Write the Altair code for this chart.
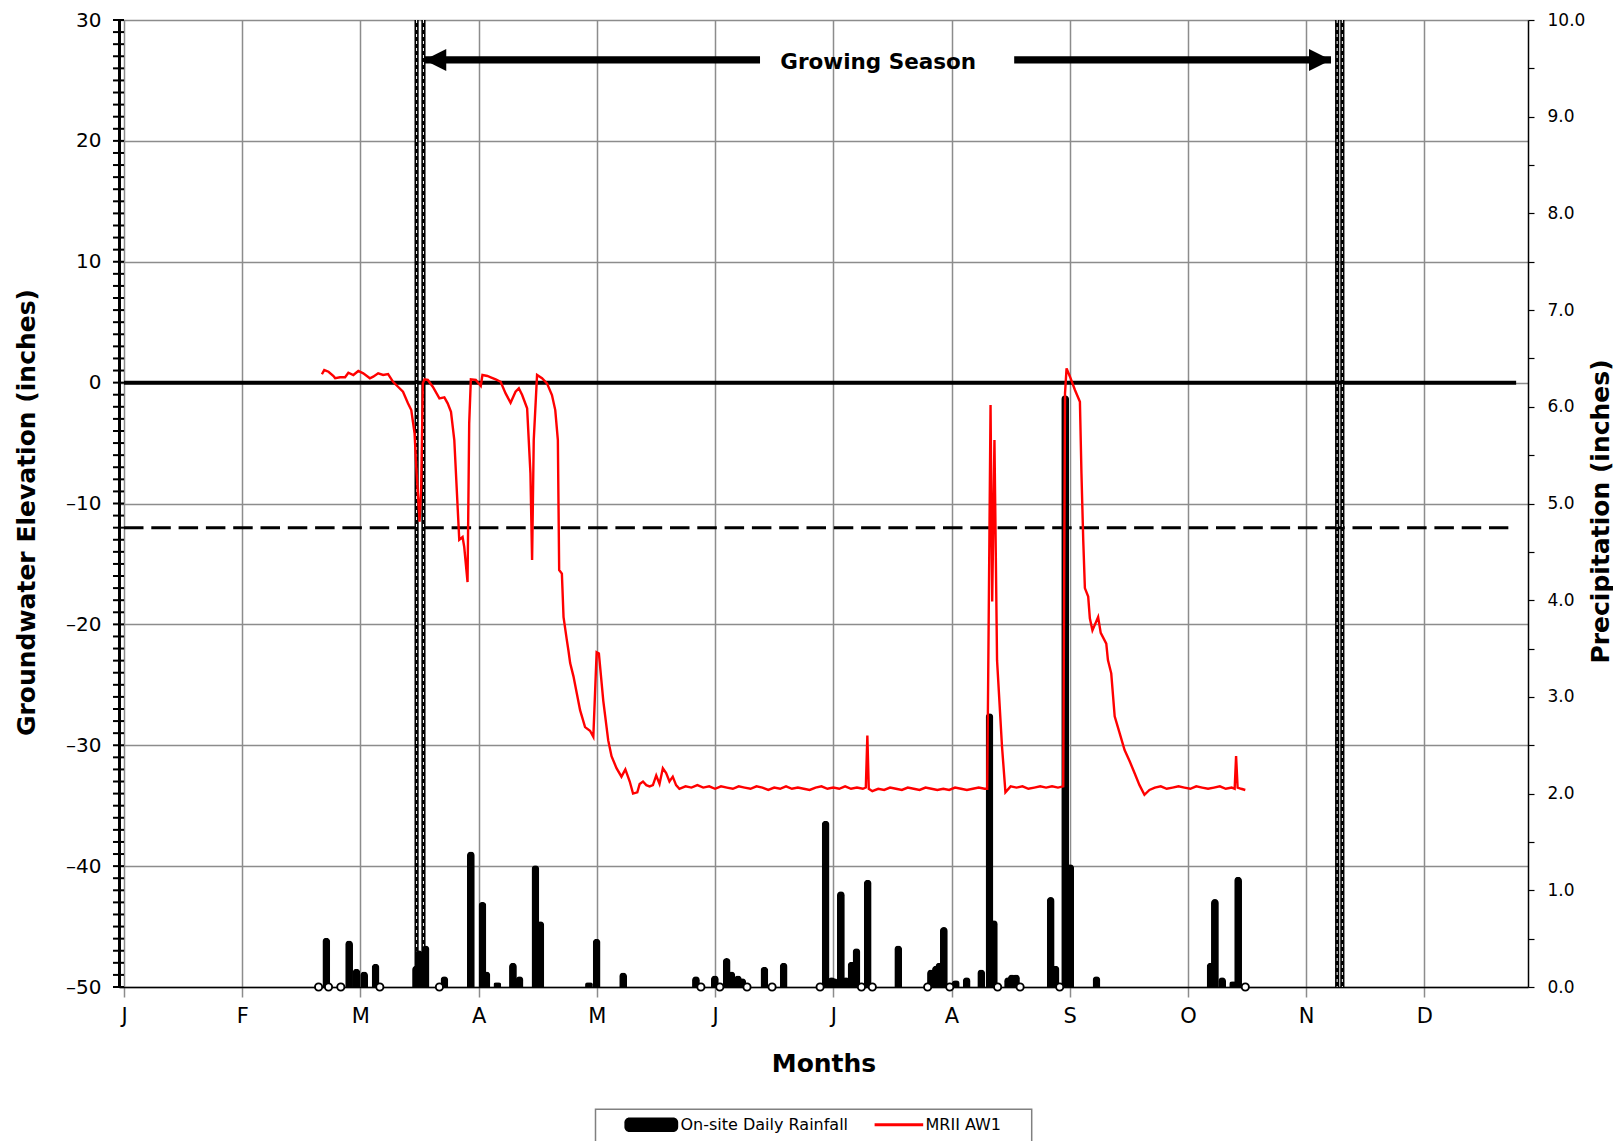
import json
import altair as alt
import pandas as pd

# ---------------- data ----------------
MONTH_LABELS = ["J", "F", "M", "A", "M", "J", "J", "A", "S", "O", "N", "D"]
MONTH_TICKS = list(range(12))
X_MAX = 11.834  # axis ends a little before a 13th month tick

# groundwater elevation (inches) of MRII AW1, x in month positions
gw_month = [
    1.674, 1.694, 1.730, 1.772, 1.786, 1.828, 1.870, 1.898, 1.940, 1.982,
    2.024, 2.080, 2.108, 2.150, 2.192, 2.234, 2.276, 2.318, 2.360, 2.402,
    2.430, 2.458, 2.472, 2.500, 2.514, 2.528, 2.542, 2.570, 2.612, 2.668,
    2.710, 2.738, 2.766, 2.794, 2.822, 2.836, 2.864, 2.878, 2.906, 2.920,
    2.934, 2.976, 3.018, 3.032, 3.074, 3.102, 3.144, 3.186, 3.228, 3.270,
    3.312, 3.340, 3.368, 3.410, 3.438, 3.452, 3.466, 3.494, 3.536, 3.578,
    3.620, 3.648, 3.670, 3.681, 3.704, 3.718, 3.746, 3.760, 3.774, 3.802,
    3.830, 3.858, 3.900, 3.942, 3.970, 3.998, 4.017, 4.054, 4.096, 4.124,
    4.166, 4.208, 4.241, 4.278, 4.306, 4.342, 4.362, 4.390, 4.418, 4.446,
    4.474, 4.502, 4.530, 4.558, 4.586, 4.614, 4.642, 4.670, 4.698,
    4.75, 4.80, 4.85, 4.90, 4.95, 5.00, 5.05, 5.10, 5.15, 5.20,
    5.25, 5.30, 5.35, 5.40, 5.45, 5.50, 5.55, 5.60, 5.65, 5.70,
    5.75, 5.80, 5.85, 5.90, 5.95, 6.00, 6.05, 6.10, 6.15, 6.20,
    6.25, 6.275, 6.288, 6.300, 6.33, 6.38, 6.43, 6.48, 6.53, 6.58,
    6.63, 6.68, 6.73, 6.78, 6.83, 6.88, 6.93, 6.98, 7.03, 7.08,
    7.13, 7.18, 7.23, 7.28, 7.302, 7.330, 7.344, 7.363, 7.385, 7.427,
    7.456, 7.50, 7.55, 7.60, 7.65, 7.70, 7.75, 7.80, 7.85, 7.90,
    7.945, 7.960, 7.973, 8.002, 8.044, 8.086, 8.099, 8.114, 8.128, 8.156,
    8.170, 8.192, 8.240, 8.262, 8.309, 8.323, 8.351, 8.380, 8.422, 8.464,
    8.506, 8.548, 8.590, 8.632, 8.674, 8.72, 8.77, 8.82, 8.87, 8.92,
    8.97, 9.02, 9.07, 9.12, 9.17, 9.22, 9.27, 9.32, 9.37, 9.395,
    9.407, 9.420, 9.45, 9.485,
]
gw_elev = [
    0.69, 1.04, 0.90, 0.55, 0.36, 0.44, 0.44, 0.82, 0.63, 0.96,
    0.77, 0.36, 0.49, 0.77, 0.63, 0.71, 0.07, -0.34, -0.75, -1.71,
    -2.27, -4.19, -6.95, -11.5, -8.6, -0.06, 0.27, 0.22, -0.34, -1.30,
    -1.22, -1.71, -2.41, -4.75, -10.27, -13.0, -12.77, -13.6, -16.5, -3.37,
    0.27, 0.22, -0.28, 0.63, 0.55, 0.44, 0.27, 0.07, -0.89, -1.66,
    -0.75, -0.47, -1.03, -2.13, -7.5, -14.68, -4.75, 0.63, 0.36, -0.06,
    -1.03, -2.27, -4.75, -15.5, -15.8, -19.4, -21.3, -22.2, -23.2, -24.3,
    -25.7, -27.1, -28.5, -28.8, -29.3, -22.3, -22.4, -26.3, -29.6, -30.9,
    -31.9, -32.6, -32.0, -33.0, -34.0, -33.9, -33.2, -33.0, -33.3, -33.4,
    -33.3, -32.5, -33.2, -31.9, -32.3, -33.0, -32.6, -33.3, -33.6,
    -33.4, -33.5, -33.3, -33.5, -33.4, -33.6, -33.4, -33.5, -33.6, -33.4,
    -33.5, -33.6, -33.4, -33.5, -33.7, -33.5, -33.6, -33.4, -33.6, -33.5,
    -33.6, -33.7, -33.5, -33.4, -33.6, -33.5, -33.6, -33.4, -33.6, -33.5,
    -33.6, -33.5, -29.2, -33.6, -33.8, -33.6, -33.7, -33.5, -33.6, -33.7,
    -33.5, -33.6, -33.7, -33.5, -33.6, -33.7, -33.6, -33.7, -33.5, -33.6,
    -33.7, -33.6, -33.5, -33.6, -33.6, -1.85, -18.1, -4.75, -22.96, -30.1,
    -33.9, -33.4, -33.5, -33.4, -33.6, -33.5, -33.4, -33.5, -33.4, -33.5,
    -33.4, -0.89, 1.18, 0.49, -0.61, -1.58, -7.5, -13.0, -17.0, -17.7,
    -19.5, -20.5, -19.4, -20.7, -21.6, -22.96, -24.05, -27.6, -29.0, -30.4,
    -31.3, -32.3, -33.3, -34.1, -33.7, -33.5, -33.4, -33.6, -33.5, -33.4,
    -33.5, -33.6, -33.4, -33.5, -33.6, -33.5, -33.4, -33.6, -33.5, -33.6,
    -30.9, -33.5, -33.6, -33.7,
]

# on-site daily rainfall (inches)
rain_month = [
    1.711, 1.904, 1.966, 2.031, 2.128, 2.470, 2.494, 2.551, 2.710, 2.934,
    3.032, 3.066, 3.158, 3.290, 3.346, 3.480, 3.522, 3.933, 3.998, 4.222,
    4.838, 4.998, 5.098, 5.138, 5.193, 5.230, 5.417, 5.580, 5.935, 5.986,
    6.010, 6.064, 6.106, 6.154, 6.196, 6.291, 6.549, 6.826, 6.868, 6.896,
    6.935, 7.036, 7.128, 7.251, 7.321, 7.358, 7.478, 7.510, 7.545, 7.839,
    7.880, 7.961, 8.004, 8.226, 9.191, 9.228, 9.289, 9.382, 9.424,
]
rain_in = [
    0.51, 0.48, 0.19, 0.16, 0.24, 0.22, 0.38, 0.43, 0.11, 1.40,
    0.88, 0.16, 0.05, 0.25, 0.11, 1.26, 0.68, 0.05, 0.50, 0.15,
    0.11, 0.12, 0.30, 0.16, 0.12, 0.09, 0.21, 0.25, 1.72, 0.10,
    0.09, 0.99, 0.10, 0.26, 0.40, 1.11, 0.43, 0.18, 0.22, 0.25,
    0.62, 0.07, 0.10, 0.18, 2.83, 0.69, 0.10, 0.13, 0.13, 0.93,
    0.22, 6.12, 1.27, 0.11, 0.25, 0.91, 0.10, 0.06, 1.14,
]
# days with zero rainfall drawn as open markers
zero_rain_month = [
    1.646, 1.730, 1.834, 2.164, 2.668, 4.880, 5.040, 5.270, 5.482, 5.888,
    6.238, 6.330, 6.798, 6.985, 7.390, 7.580, 7.915, 9.485,
]

GROWING_SEASON_LINES = [2.475, 2.533, 10.262, 10.306]
ARROW_LEFT = [2.54, 5.38]     # tip, tail
ARROW_RIGHT = [7.53, 10.21]   # tail, tip
ARROW_ELEV = 26.7
GS_LABEL = "Growing Season"
GS_LABEL_MONTH = 6.38
GS_LABEL_ELEV = 26.45
ZERO_LINE = [0.0, 11.776, 0.0]
THRESHOLD_LINE = [0.0, 11.71, -12.0]
LEFT_TICKS = list(range(-50, 31))
LEFT_LABELS = [-50, -40, -30, -20, -10, 0, 10, 20, 30]
RIGHT_TICKS = [i / 2 for i in range(21)]
LEGEND_LABELS = ["On-site Daily Rainfall", "MRII AW1"]

# ---------------- chart ----------------
W, H = 1409, 967
FONT = "DejaVu Sans"
GRID = "#8c8c8c"

xs = alt.Scale(domain=[0, X_MAX], nice=False, zero=False)
yl = alt.Scale(domain=[-50, 30], nice=False, zero=False)
yr = alt.Scale(domain=[0, 10], nice=False, zero=True)

X_AXIS = alt.Axis(
    values=MONTH_TICKS,
    labelExpr=json.dumps(MONTH_LABELS) + "[datum.value]",
    grid=True, gridColor=GRID, gridWidth=1.5,
    ticks=True, tickColor=GRID, tickWidth=1.5, tickSize=10,
    domainColor="black", domainWidth=1.5,
    labelFont=FONT, labelFontSize=21, labelColor="black", labelPadding=8,
    labelFlush=False, labelOverlap=False,
    title="Months", titleFont=FONT, titleFontSize=25, titleFontWeight="bold",
    titleColor="black", titleY=76, titleBaseline="middle",
)
LEFT_AXIS = alt.Axis(
    orient="left", values=LEFT_LABELS,
    labelExpr="datum.value < 0 ? '\u2013' + abs(datum.value) : '' + datum.value",
    grid=True, gridColor=GRID, gridWidth=1.5,
    ticks=False, domainColor="black", domainWidth=3,
    labelFont=FONT, labelFontSize=20, labelColor="black", labelPadding=18,
    labelFlush=False, labelOverlap=False,
    title="Groundwater Elevation (inches)", titleFont=FONT, titleFontSize=25,
    titleFontWeight="bold", titleColor="black", titleAngle=270,
    titleX=-93, titleY=492, titleBaseline="middle", titleAlign="center",
)
RIGHT_AXIS = alt.Axis(
    orient="right", values=RIGHT_TICKS,
    labelExpr="datum.value % 1 === 0 ? format(datum.value, '.1f') : ''",
    grid=False, ticks=True, tickColor="black", tickSize=6, tickWidth=1.2,
    domainColor="black", domainWidth=1.5,
    labelFont=FONT, labelFontSize=17, labelColor="black", labelPadding=13,
    labelFlush=False, labelOverlap=False,
    title="Precipitation (inches)", titleFont=FONT, titleFontSize=25,
    titleFontWeight="bold", titleColor="black", titleAngle=270,
    titleX=72, titleY=491, titleBaseline="middle", titleAlign="center",
)

gw = pd.DataFrame({"m": gw_month, "elev": gw_elev})
rain = pd.DataFrame({"m": rain_month, "inch": rain_in})
zero_rain = pd.DataFrame({"m": zero_rain_month, "inch": [0.0] * len(zero_rain_month)})
hlines = pd.DataFrame({
    "m": [ZERO_LINE[0], THRESHOLD_LINE[0]],
    "m2": [ZERO_LINE[1], THRESHOLD_LINE[1]],
    "v": [ZERO_LINE[2], THRESHOLD_LINE[2]],
    "kind": ["zero", "threshold"],
})
vlines = pd.DataFrame({"m": GROWING_SEASON_LINES})
shafts = pd.DataFrame({"m": [ARROW_LEFT[0], ARROW_RIGHT[0]],
                       "m2": [ARROW_LEFT[1], ARROW_RIGHT[1]],
                       "v": [ARROW_ELEV, ARROW_ELEV]})
heads_l = pd.DataFrame({"m": [ARROW_LEFT[0]], "v": [ARROW_ELEV]})
heads_r = pd.DataFrame({"m": [ARROW_RIGHT[1]], "v": [ARROW_ELEV]})
gs_text = pd.DataFrame({"m": [GS_LABEL_MONTH], "v": [GS_LABEL_ELEV], "t": [GS_LABEL]})
lticks = pd.DataFrame({"t": LEFT_TICKS})
one = pd.DataFrame({"a": [0]})

X = lambda: alt.X("m:Q", scale=xs, axis=X_AXIS)
X2 = alt.X2("m2")

zero_line = alt.Chart(hlines).transform_filter("datum.kind == 'zero'").mark_rule(
    color="black", strokeWidth=4).encode(
    x=X(), x2=X2, y=alt.Y("v:Q", scale=yl, axis=LEFT_AXIS))
thr_line = alt.Chart(hlines).transform_filter("datum.kind == 'threshold'").mark_rule(
    color="black", strokeWidth=3, strokeDash=[19.5, 7.8]).encode(
    x=X(), x2=X2, y=alt.Y("v:Q", scale=yl, axis=LEFT_AXIS))
vl_black = alt.Chart(vlines).mark_rule(color="black", strokeWidth=4.2).encode(x=X())
vl_white = alt.Chart(vlines).mark_rule(color="white", strokeWidth=1.0,
                                       strokeDash=[3, 4]).encode(x=X())
tick_rules = alt.Chart(lticks).mark_rule(color="black", strokeWidth=2).encode(
    y=alt.Y("t:Q", scale=yl, axis=LEFT_AXIS), x=alt.value(-6), x2=alt.value(5))
shaft = alt.Chart(shafts).mark_rule(color="black", strokeWidth=7.4).encode(
    x=X(), x2=X2, y=alt.Y("v:Q", scale=yl, axis=LEFT_AXIS))
head_l = alt.Chart(heads_l).mark_point(
    shape="M0,0L2,-1L2,1Z", filled=True, color="black", size=484, opacity=1).encode(
    x=X(), y=alt.Y("v:Q", scale=yl, axis=LEFT_AXIS))
head_r = alt.Chart(heads_r).mark_point(
    shape="M0,0L-2,-1L-2,1Z", filled=True, color="black", size=484, opacity=1).encode(
    x=X(), y=alt.Y("v:Q", scale=yl, axis=LEFT_AXIS))
gs_lbl = alt.Chart(gs_text).mark_text(
    font=FONT, fontSize=21.5, fontWeight="bold", color="black",
    align="center", baseline="middle").encode(
    x=X(), y=alt.Y("v:Q", scale=yl, axis=LEFT_AXIS), text="t:N")

# legend (drawn below the plot)
LY = 1104.7
leg_box = alt.Chart(one).mark_rect(fill="white", fillOpacity=0, stroke="#808080",
                                   strokeWidth=1.5).encode(
    x=alt.value(476.5), x2=alt.value(912.7), y=alt.value(1089.3), y2=alt.value(1190))
leg_sym1 = alt.Chart(one).mark_rect(color="black", cornerRadius=5).encode(
    x=alt.value(505.4), x2=alt.value(559.2), y=alt.value(LY - 7.3), y2=alt.value(LY + 7.3))
leg_txt1 = alt.Chart(one).mark_text(
    text=LEGEND_LABELS[0], font=FONT, fontSize=16, color="black",
    align="left", baseline="middle").encode(x=alt.value(561.5), y=alt.value(LY))
leg_sym2 = alt.Chart(one).mark_rule(color="#ff0000", strokeWidth=3).encode(
    x=alt.value(755.6), x2=alt.value(804.2), y=alt.value(LY))
leg_txt2 = alt.Chart(one).mark_text(
    text=LEGEND_LABELS[1], font=FONT, fontSize=16, color="black",
    align="left", baseline="middle").encode(x=alt.value(806.5), y=alt.value(LY))

left_group = alt.layer(
    zero_line, thr_line, vl_black, vl_white, tick_rules, shaft, head_l, head_r,
    gs_lbl, leg_box, leg_sym1, leg_txt1, leg_sym2, leg_txt2,
)

bars = alt.Chart(rain).mark_bar(
    color="black", size=7.8, cornerRadiusTopLeft=3.9, cornerRadiusTopRight=3.9).encode(
    x=X(), y=alt.Y("inch:Q", scale=yr, axis=RIGHT_AXIS))
zeros = alt.Chart(zero_rain).mark_point(
    shape="circle", size=52, fill="white", stroke="black", strokeWidth=1.9,
    opacity=1, filled=False).encode(
    x=X(), y=alt.Y("inch:Q", scale=yr, axis=RIGHT_AXIS))
right_group = alt.layer(bars, zeros)

red_line = alt.Chart(gw).mark_line(color="#ff0000", strokeWidth=2.4).encode(
    x=X(), y=alt.Y("elev:Q", scale=yl, axis=None))

chart = alt.layer(left_group, right_group, red_line).resolve_scale(
    y="independent"
).properties(
    width=W, height=H,
    padding={"left": 111, "top": 12, "right": 85, "bottom": 190},
    autosize=alt.AutoSizeParams(type="none"),
).configure_view(stroke=None).configure(background="white")

chart.save("out.html", embed_options={"renderer": "svg", "actions": False})
